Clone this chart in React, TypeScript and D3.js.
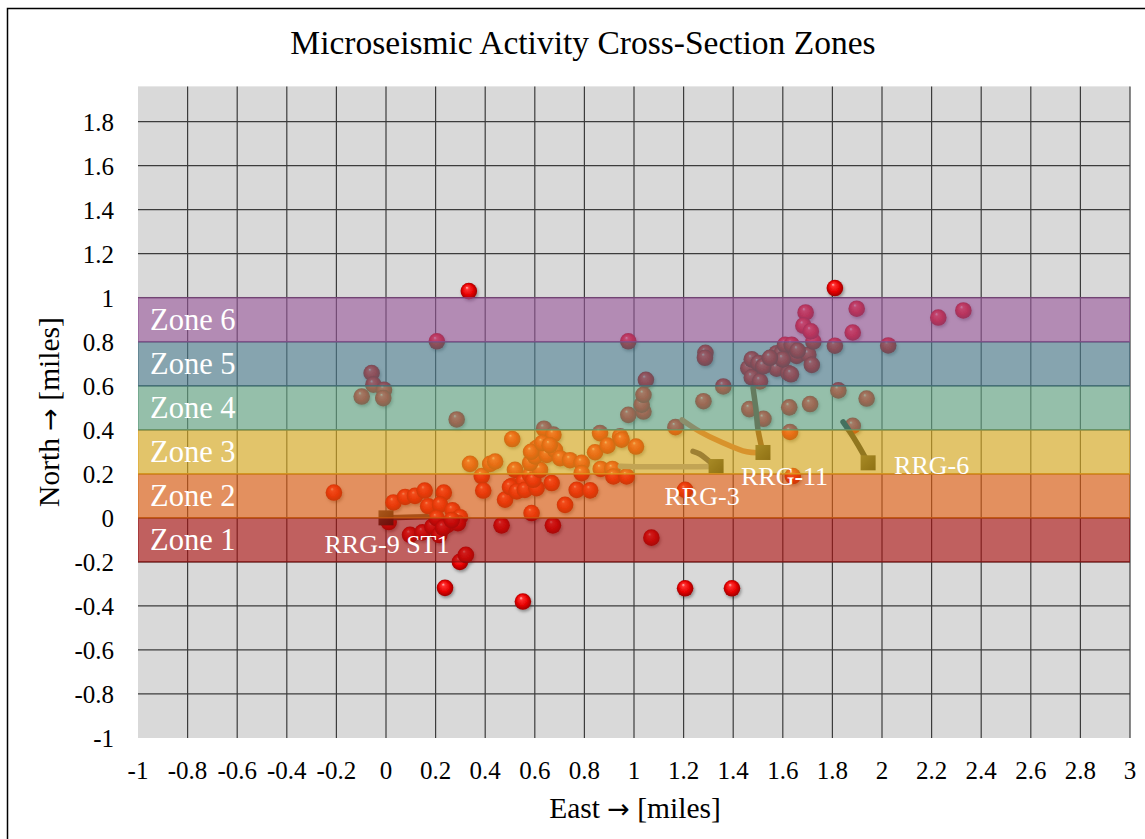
import React from "react";
import * as d3 from "d3";

// Axis ticks (miles)
const xTickValues = [-1, -0.8, -0.6, -0.4, -0.2, 0, 0.2, 0.4, 0.6, 0.8, 1, 1.2, 1.4, 1.6, 1.8, 2, 2.2, 2.4, 2.6, 2.8, 3];
const xTickLabels = ["-1", "-0.8", "-0.6", "-0.4", "-0.2", "0", "0.2", "0.4", "0.6", "0.8", "1", "1.2", "1.4", "1.6", "1.8", "2", "2.2", "2.4", "2.6", "2.8", "3"];
const yTickValues = [-1, -0.8, -0.6, -0.4, -0.2, 0, 0.2, 0.4, 0.6, 0.8, 1, 1.2, 1.4, 1.6, 1.8];
const yTickLabels = ["-1", "-0.8", "-0.6", "-0.4", "-0.2", "0", "0.2", "0.4", "0.6", "0.8", "1", "1.2", "1.4", "1.6", "1.8"];
const yViewTop = 1.96;

// Cross-section zones (north bounds in miles)
const zoneNames = ["Zone 1", "Zone 2", "Zone 3", "Zone 4", "Zone 5", "Zone 6"];
const zoneBottom = [-0.2, 0, 0.2, 0.4, 0.6, 0.8];
const zoneTop = [0, 0.2, 0.4, 0.6, 0.8, 1.0];
const zoneColors = ["#af0f0e", "#ea5f0e", "#e8b620", "#68ae8b", "#4e8193", "#9a579b"];
const zoneEdge = ["#8a1010", "#d06a10", "#e0a020", "#4f8e70", "#3f6474", "#8a4a8c"];

// Microseismic events: [east, north] in miles
const events: [number, number][] = [
  [-0.21, 0.115],
  [0.03, 0.07], [0.077, 0.095], [0.117, 0.1], [0.156, 0.124], [0.233, 0.115], [0.17, 0.053], [0.218, 0.06], [0.268, 0.034], [0.298, 0.003],
  [0.011, -0.019], [0.097, -0.077], [0.147, -0.066], [0.187, -0.04], [0.248, -0.032], [0.29, -0.024], [0.204, -0.001], [0.215, -0.078], [0.23, -0.045], [0.265, -0.01],
  [0.298, -0.2], [0.322, -0.168], [0.238, -0.318], [0.552, -0.38], [0.466, -0.034], [0.673, -0.034], [1.07, -0.09], [1.206, -0.32], [1.395, -0.32],
  [0.386, 0.19], [0.392, 0.124], [0.48, 0.083], [0.587, 0.022], [0.722, 0.059], [0.339, 0.245], [0.42, 0.245], [0.44, 0.256], [0.509, 0.358], [0.285, 0.447],
  [0.507, 0.145], [0.52, 0.218], [0.554, 0.165], [0.594, 0.142], [0.5, 0.14], [0.527, 0.12], [0.56, 0.127], [0.607, 0.135], [0.581, 0.195], [0.594, 0.173],
  [0.621, 0.218], [0.581, 0.249], [0.601, 0.279], [0.607, 0.317], [0.585, 0.3], [0.637, 0.405], [0.675, 0.378], [0.648, 0.286], [0.681, 0.309], [0.63, 0.34],
  [0.66, 0.33], [0.702, 0.271], [0.742, 0.262], [0.789, 0.25], [0.668, 0.158], [0.769, 0.127], [0.823, 0.125], [0.789, 0.203], [0.843, 0.298], [0.863, 0.385],
  [0.893, 0.328], [0.944, 0.37], [0.95, 0.355], [1.008, 0.324], [0.866, 0.222], [0.913, 0.222], [0.917, 0.188], [0.97, 0.188],
  [1.206, 0.127], [1.64, 0.19], [1.167, 0.412],
  [0.977, 0.468], [1.038, 0.483], [1.031, 0.514], [1.038, 0.559], [1.048, 0.627],
  [0.205, 0.802], [0.977, 0.802], [0.334, 1.03], [1.81, 1.044],
  [-0.058, 0.658], [-0.051, 0.605], [-0.098, 0.551], [-0.008, 0.582], [-0.011, 0.544],
  [1.288, 0.75], [1.286, 0.727], [1.36, 0.597], [1.28, 0.53], [1.465, 0.494], [1.522, 0.45],
  [1.461, 0.68], [1.475, 0.72], [1.475, 0.638], [1.508, 0.62], [1.502, 0.703], [1.548, 0.718], [1.575, 0.748], [1.575, 0.678], [1.521, 0.688],
  [1.595, 0.748], [1.609, 0.786], [1.636, 0.786], [1.656, 0.736], [1.703, 0.741], [1.717, 0.695], [1.622, 0.658], [1.633, 0.652], [1.723, 0.801],
  [1.6, 0.72], [1.66, 0.76], [1.548, 0.727],
  [1.692, 0.933], [1.683, 0.873], [1.713, 0.847], [1.898, 0.95], [1.882, 0.842], [2.227, 0.91], [2.328, 0.942], [1.81, 0.782], [2.025, 0.783],
  [1.824, 0.579], [1.938, 0.542], [1.71, 0.517], [1.626, 0.502], [1.629, 0.39], [1.882, 0.418],
];

// Well heads and lateral traces
const wellNames = ["RRG-9 ST1", "RRG-3", "RRG-11", "RRG-6"];
const wellHeads: [number, number][] = [[0, 0], [1.331, 0.233], [1.52, 0.297], [1.944, 0.25]];
const wellLaterals: { well: string; points: [number, number][] }[] = [
  { well: "RRG-9 ST1", points: [[0, 0], [0.08, 0.003], [0.165, 0.005]] },
  { well: "RRG-3", points: [[1.331, 0.233], [1.2, 0.232], [1.05, 0.232], [0.945, 0.234]] },
  { well: "RRG-3", points: [[1.331, 0.233], [1.3, 0.26], [1.265, 0.29], [1.238, 0.302]] },
  { well: "RRG-11", points: [[1.52, 0.297], [1.455, 0.3], [1.347, 0.347], [1.266, 0.392], [1.194, 0.445]] },
  { well: "RRG-11", points: [[1.52, 0.297], [1.5, 0.4], [1.492, 0.49], [1.48, 0.59]] },
  { well: "RRG-6", points: [[1.944, 0.25], [1.903, 0.332], [1.871, 0.39], [1.843, 0.436]] },
];
const lateralColors = ["#4a3a28", "#8a8aa2", "#303052", "#c06040", "#603020", "#101820"];

// Label placement relative to the well head (px)
const wellLabelOffset: [number, number, string][] = [
  [1, 35, "middle"],
  [-14, 38, "middle"],
  [-22, 33, "start"],
  [26, 11, "start"],
];

const FONT = "'Liberation Serif', 'Times New Roman', serif";
const ARROW_FONT = "'DejaVu Sans', sans-serif";

export default function App() {
  const x = d3.scaleLinear().domain([-1, 3]).range([138, 1130]);
  const y = d3.scaleLinear().domain([-1, 1.8]).range([738, 121.6]);
  const line = d3
    .line<[number, number]>()
    .x((d) => x(d[0]))
    .y((d) => y(d[1]))
    .curve(d3.curveCatmullRom.alpha(0.5));

  const left = x(-1);
  const right = x(3);
  const top = y(yViewTop);
  const bottom = y(-1);
  const sq = 15;

  return (
    <svg
      width={1145}
      height={839}
      style={{ position: "absolute", left: 0, top: 0, background: "#fff" }}
    >
      <defs>
        <radialGradient id="sphere" cx="0.5" cy="0.5" r="0.55" fx="0.38" fy="0.28">
          <stop offset="0" stopColor="#ffc0c0" />
          <stop offset="0.18" stopColor="#ff3030" />
          <stop offset="0.6" stopColor="#e60000" />
          <stop offset="1" stopColor="#8c0000" />
        </radialGradient>
        <linearGradient id="bevel" x1="0" y1="0" x2="1" y2="1">
          <stop offset="0" stopColor="#4a4a30" />
          <stop offset="0.5" stopColor="#2a2a18" />
          <stop offset="1" stopColor="#0a0a04" />
        </linearGradient>
        <filter id="shadow" x="-50%" y="-50%" width="200%" height="200%">
          <feDropShadow dx="1.2" dy="2" stdDeviation="1.4" floodColor="#000" floodOpacity="0.35" />
        </filter>
        <clipPath id="plotClip">
          <rect x={left} y={top} width={right - left} height={bottom - top} />
        </clipPath>
      </defs>

      {/* chart frame */}
      <rect x={7.5} y={8.5} width={1150} height={840} fill="#fff" stroke="#000" strokeWidth={1.5} />

      <text x={583} y={54} textAnchor="middle" fontFamily={FONT} fontSize={33.5} fill="#000">
        Microseismic Activity Cross-Section Zones
      </text>

      {/* plot background */}
      <rect x={left} y={top} width={right - left} height={bottom - top} fill="#d9d9d9" />

      {/* gridlines */}
      <g stroke="#3c3c3c" strokeWidth={1.2}>
        {xTickValues
          .filter((v) => v !== -1)
          .map((v) => (
            <line key={"gx" + v} x1={x(v)} x2={x(v)} y1={top} y2={bottom} />
          ))}
        {yTickValues
          .filter((v) => v !== -1)
          .map((v) => (
            <line key={"gy" + v} x1={left} x2={right} y1={y(v)} y2={y(v)} />
          ))}
      </g>

      <g clipPath="url(#plotClip)">
        {/* events */}
        <g filter="url(#shadow)">
          {events.map((d, i) => (
            <circle key={"e" + i} cx={x(d[0])} cy={y(d[1])} r={8.3} fill="url(#sphere)" />
          ))}
        </g>

        {/* well laterals */}
        {wellLaterals.map((w, i) => (
          <path
            key={"w" + i}
            d={line(w.points) || ""}
            fill="none"
            stroke={lateralColors[i]}
            strokeWidth={5.5}
            strokeLinecap="round"
            strokeLinejoin="round"
          />
        ))}
        {wellHeads.map((h, i) => (
          <rect
            key={"h" + i}
            x={x(h[0]) - sq / 2}
            y={y(h[1]) - sq / 2}
            width={sq}
            height={sq}
            fill="url(#bevel)"
          />
        ))}

        {/* zone bands */}
        {zoneNames.map((z, i) => (
          <rect
            key={z}
            x={left}
            y={y(zoneTop[i])}
            width={right - left}
            height={y(zoneBottom[i]) - y(zoneTop[i])}
            fill={zoneColors[i]}
            fillOpacity={0.6}
            stroke={zoneEdge[i]}
            strokeOpacity={0.6}
            strokeWidth={1.5}
          />
        ))}
      </g>

      {/* zone labels */}
      {zoneNames.map((z, i) => (
        <text
          key={"zl" + z}
          x={150}
          y={y((zoneTop[i] + zoneBottom[i]) / 2) + 10.5}
          fontFamily={FONT}
          fontSize={30.5}
          fill="#fff"
        >
          {z}
        </text>
      ))}

      {/* well labels */}
      {wellNames.map((n, i) => (
        <text
          key={"wl" + n}
          x={x(wellHeads[i][0]) + wellLabelOffset[i][0]}
          y={y(wellHeads[i][1]) + wellLabelOffset[i][1]}
          textAnchor={wellLabelOffset[i][2] as any}
          fontFamily={FONT}
          fontSize={26}
          fill="#fff"
        >
          {n}
        </text>
      ))}

      {/* tick labels */}
      {xTickValues.map((v, i) => (
        <text key={"xt" + v} x={x(v)} y={779} textAnchor="middle" fontFamily={FONT} fontSize={25} fill="#000">
          {xTickLabels[i]}
        </text>
      ))}
      {yTickValues.map((v, i) => (
        <text key={"yt" + v} x={114} y={y(v) + 9} textAnchor="end" fontFamily={FONT} fontSize={25} fill="#000">
          {yTickLabels[i]}
        </text>
      ))}

      {/* axis titles */}
      <text x={635} y={818} textAnchor="middle" fontFamily={FONT} fontSize={29.5} fill="#000">
        East <tspan fontFamily={ARROW_FONT} fontSize={27}>→</tspan> [miles]
      </text>
      <text
        transform="translate(59,412) rotate(-90)"
        textAnchor="middle"
        fontFamily={FONT}
        fontSize={29.5}
        fill="#000"
      >
        North <tspan fontFamily={ARROW_FONT} fontSize={27}>→</tspan> [miles]
      </text>
    </svg>
  );
}
